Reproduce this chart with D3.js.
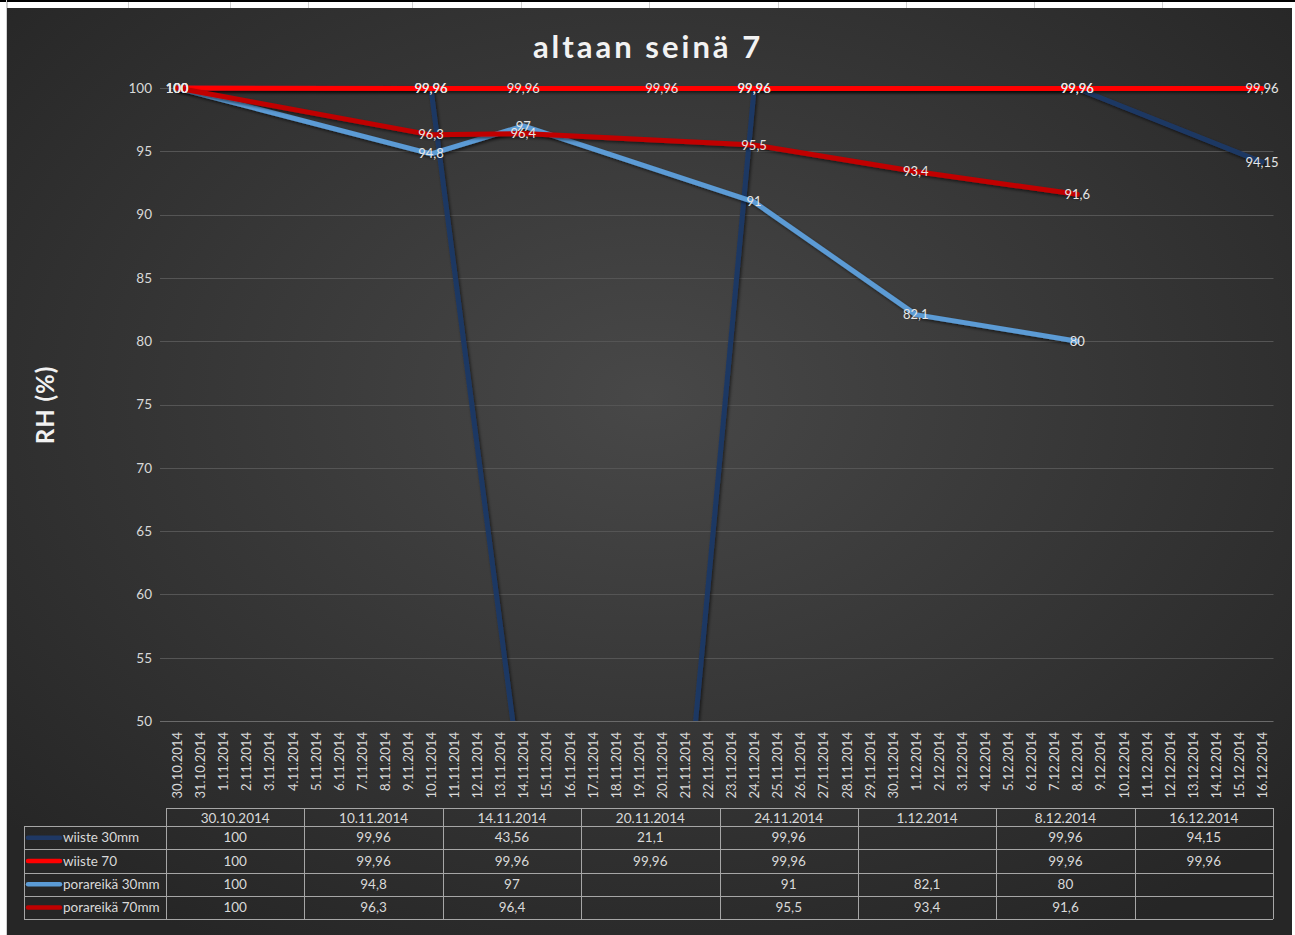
<!DOCTYPE html>
<html>
<head>
<meta charset="utf-8">
<script src="https://cdn.jsdelivr.net/npm/d3@7"></script>
<style>
  html, body { margin: 0; padding: 0; background: #fff; }
  svg { display: block; }
  text { font-family: Lato, "Open Sans", sans-serif; }
</style>
</head>
<body>
<script>
// Measurement dates (dd.mm.yyyy) and relative humidity readings per sensor
const dates = ["30.10.2014", "10.11.2014", "14.11.2014", "20.11.2014",
               "24.11.2014", "1.12.2014", "8.12.2014", "16.12.2014"];
const wiiste30 = [100, 99.96, 43.56, 21.1, 99.96, null, 99.96, 94.15];
const wiiste70 = [100, 99.96, 99.96, 99.96, 99.96, null, 99.96, 99.96];
const porareika30 = [100, 94.8, 97, null, 91, 82.1, 80, null];
const porareika70 = [100, 96.3, 96.4, null, 95.5, 93.4, 91.6, null];
const seriesNames = ["wiiste 30mm", "wiiste 70", "porareikä 30mm", "porareikä 70mm"];
const yTicks = [50, 55, 60, 65, 70, 75, 80, 85, 90, 95, 100];
const xStart = "30.10.2014", xEnd = "16.12.2014";

const W = 1295, H = 935;
const parse = d3.utcParse("%d.%m.%Y");
const fmtDay = d3.utcFormat("%-d.%-m.%Y");
const fmtNum = v => String(v).replace(".", ",");

const series = [
  { name: seriesNames[0], values: wiiste30, color: "#1f3864" },
  { name: seriesNames[1], values: wiiste70, color: "#ff0000" },
  { name: seriesNames[2], values: porareika30, color: "#5b9bd5" },
  { name: seriesNames[3], values: porareika70, color: "#c00000" }
];

const svg = d3.select("body").append("svg").attr("width", W).attr("height", H);
const defs = svg.append("defs");

const grad = defs.append("radialGradient").attr("id", "bg")
  .attr("cx", "50%").attr("cy", "42%").attr("r", "68%");
grad.append("stop").attr("offset", "0%").attr("stop-color", "#484848");
grad.append("stop").attr("offset", "100%").attr("stop-color", "#262626");

// Soft shadow under the series lines (region in user space so flat lines keep it)
const shadow = defs.append("filter").attr("id", "shadow")
  .attr("filterUnits", "userSpaceOnUse")
  .attr("x", 0).attr("y", 0).attr("width", W).attr("height", H);
shadow.append("feDropShadow").attr("dx", 1.5).attr("dy", 2).attr("stdDeviation", 1.5)
  .attr("flood-color", "#000").attr("flood-opacity", 0.55);

// Sheet strip and cell borders above the chart object
svg.append("rect").attr("x", 0).attr("y", 0).attr("width", W).attr("height", 2).attr("fill", "#000");
const sheetCols = [7, 128, 230, 308, 412, 521, 649, 778, 906, 1034, 1162];
svg.selectAll("line.cell").data(sheetCols).join("line")
  .attr("x1", d => d + 0.5).attr("x2", d => d + 0.5).attr("y1", 2).attr("y2", 8)
  .attr("stroke", "#cfcfcf");
svg.append("line").attr("x1", 6.5).attr("x2", 6.5).attr("y1", 0).attr("y2", H).attr("stroke", "#d0d0d0");

// Chart area
svg.append("rect").attr("x", 7).attr("y", 8).attr("width", 1285).attr("height", H - 8)
  .attr("fill", "url(#bg)");

// Title
svg.append("text").attr("x", 648).attr("y", 58).attr("text-anchor", "middle")
  .attr("font-size", 31).attr("font-weight", 700).attr("letter-spacing", 3)
  .attr("fill", "#f2f2f2").text("altaan seinä 7");

// Scales
const plot = { left: 165.5, right: 1273.5, top: 88, bottom: 721 };
const x = d3.scaleUtc()
  .domain([d3.utcHour.offset(parse(xStart), -12), d3.utcHour.offset(parse(xEnd), 12)])
  .range([plot.left, plot.right]);
const y = d3.scaleLinear().domain([50, 100]).range([plot.bottom, plot.top]);

// Horizontal gridlines
svg.append("g").selectAll("line").data(yTicks).join("line")
  .attr("x1", 160).attr("x2", plot.right)
  .attr("y1", d => Math.round(y(d)) + 0.5).attr("y2", d => Math.round(y(d)) + 0.5)
  .attr("stroke", d => d === 50 ? "#6a6a6a" : "#555555").attr("stroke-width", 1);

// Y axis labels
const yAxis = d3.axisLeft(y).tickValues(yTicks).tickSize(0).tickPadding(0);
const gy = svg.append("g").attr("transform", `translate(152,0)`).call(yAxis);
gy.select(".domain").remove();
gy.selectAll("text").attr("fill", "#d9d9d9").attr("font-size", 13.5)
  .attr("font-family", "Lato, sans-serif").attr("dy", "0.32em");

// Y axis title
svg.append("text").attr("transform", "translate(54,405) rotate(-90)")
  .attr("text-anchor", "middle").attr("font-size", 24).attr("font-weight", 700)
  .attr("letter-spacing", 1).attr("fill", "#f2f2f2").text("RH (%)");

// X axis: one tick per day, labels rotated
const days = d3.utcDay.range(parse(xStart), d3.utcDay.offset(parse(xEnd), 1));
const xAxis = d3.axisBottom(x).tickValues(days).tickFormat(fmtDay).tickSize(0);
const gx = svg.append("g").attr("transform", `translate(0,${plot.bottom})`).call(xAxis);
gx.select(".domain").remove();
gx.selectAll("text")
  .attr("fill", "#d9d9d9").attr("font-size", 13).attr("font-family", "Lato, sans-serif")
  .attr("text-anchor", "end").attr("transform", "rotate(-90)")
  .attr("x", -11).attr("y", 0).attr("dy", "0.35em");

// Lines
defs.append("clipPath").attr("id", "plotclip").append("rect")
  .attr("x", 150).attr("y", 60).attr("width", 1140).attr("height", plot.bottom - 60);

const line = d3.line().x(d => x(d.date)).y(d => y(d.value));
const pts = s => s.values.map((v, i) => ({ date: parse(dates[i]), value: v }))
  .filter(d => d.value !== null);

const gLines = svg.append("g").attr("clip-path", "url(#plotclip)");
series.forEach(s => {
  gLines.append("path").datum(pts(s)).attr("d", line)
    .attr("fill", "none").attr("stroke", s.color).attr("stroke-width", 5)
    .attr("stroke-linejoin", "round").attr("stroke-linecap", "round")
    .attr("filter", "url(#shadow)");
});

// Data labels centred on each visible point
const gLab = svg.append("g");
series.forEach(s => {
  gLab.selectAll(null).data(pts(s).filter(d => d.value >= 50)).join("text")
    .attr("x", d => x(d.date)).attr("y", d => y(d.value)).attr("dy", "0.35em")
    .attr("text-anchor", "middle").attr("font-size", 13).attr("fill", "#e6e6e6")
    .text(d => fmtNum(d.value));
});

// Data table with legend keys
const tbl = { left: 24, keyRight: 166, right: 1273, headTop: 808, headBottom: 826, rowH: 23.25 };
const colW = (tbl.right - tbl.keyRight) / dates.length;
const colX = i => tbl.keyRight + i * colW;
const rowTop = r => tbl.headBottom + r * tbl.rowH;
const tableBottom = rowTop(series.length);
const gT = svg.append("g").attr("stroke", "#a6a6a6").attr("stroke-width", 1).attr("fill", "none");

gT.append("line").attr("x1", tbl.keyRight).attr("x2", tbl.right)
  .attr("y1", tbl.headTop + 0.5).attr("y2", tbl.headTop + 0.5);
d3.range(series.length + 1).forEach(r => {
  gT.append("line").attr("x1", tbl.left).attr("x2", tbl.right)
    .attr("y1", Math.round(rowTop(r)) + 0.5).attr("y2", Math.round(rowTop(r)) + 0.5);
});
gT.append("line").attr("x1", tbl.left + 0.5).attr("x2", tbl.left + 0.5)
  .attr("y1", tbl.headBottom).attr("y2", tableBottom);
d3.range(dates.length + 1).forEach(c => {
  const xx = Math.round(colX(c)) + 0.5;
  gT.append("line").attr("x1", xx).attr("x2", xx).attr("y1", tbl.headTop).attr("y2", tableBottom);
});

svg.append("g").selectAll("text").data(dates).join("text")
  .attr("x", (d, i) => colX(i) + colW / 2).attr("y", (tbl.headTop + tbl.headBottom) / 2 + 1)
  .attr("dy", "0.36em").attr("text-anchor", "middle").attr("font-size", 13.5)
  .attr("fill", "#d9d9d9").text(d => d);

series.forEach((s, r) => {
  const cy = rowTop(r) + tbl.rowH / 2;
  const g = svg.append("g");
  g.append("line").attr("x1", 28).attr("x2", 60).attr("y1", cy).attr("y2", cy)
    .attr("stroke", s.color).attr("stroke-width", 4.5).attr("stroke-linecap", "round");
  g.append("text").attr("x", 63).attr("y", cy).attr("dy", "0.36em")
    .attr("font-size", 13.5).attr("fill", "#d9d9d9").text(s.name);
  g.selectAll("text.v").data(s.values).join("text").attr("class", "v")
    .attr("x", (d, i) => colX(i) + colW / 2).attr("y", cy).attr("dy", "0.36em")
    .attr("text-anchor", "middle").attr("font-size", 13.5).attr("fill", "#d9d9d9")
    .text(d => d === null ? "" : fmtNum(d));
});
</script>
</body>
</html>
